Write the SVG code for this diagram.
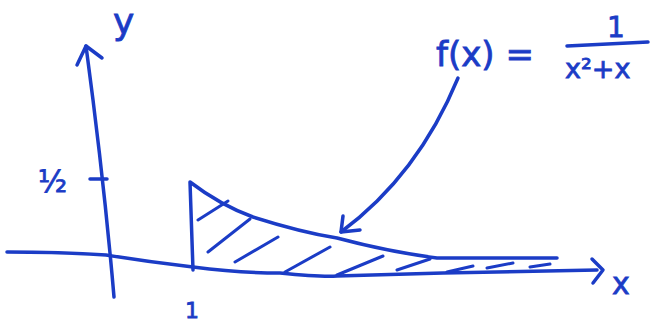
<svg xmlns="http://www.w3.org/2000/svg" width="652" height="324" viewBox="0 0 652 324">
<style>
.s{fill:none;stroke:#1b3cc6;stroke-width:3.5;stroke-linecap:round;stroke-linejoin:round}
.h{fill:none;stroke:#1b3cc6;stroke-width:3;stroke-linecap:round}
.t{fill:#1b3cc6;font-family:"DejaVu Sans",sans-serif;stroke:#1b3cc6;stroke-width:0.8}
</style>
<rect width="652" height="324" fill="#fff"/>
<g id="axes">
<path class="s" d="M114,297 Q104,180 86,46"/>
<path class="s" d="M77,65 L86,46 L102,58"/>
<path class="s" d="M7,252 Q60,252 106,255 Q150,262 193,267 Q240,273 280,273 Q320,277 337,276 Q400,274 443,273 L597,270"/>
<path class="s" d="M592,259 L603,270 L593,283"/>
<path class="s" d="M90,179 L107,179"/>
</g>
<g id="region">
<path class="s" d="M193,270 L190,182 Q220,205 253,217 Q300,232 337,238 Q390,252 437,258 L557,258"/>
<path class="h" d="M198,220 L228,201 M208,252 L250,219 M235,262 L278,237 M285,272 L330,247 M337,275 L383,256 M397,270 L430,259 M447,272 L473,266 M487,268 L513,263 M530,267 L550,264"/>
</g>
<g id="connectors">
<path class="s" d="M458,78 Q418,175 341,232"/>
<path class="s" d="M343,216 L341,232 L360,230"/>
</g>
<g id="labels">
<text class="t" x="113" y="34" font-size="36">y</text>
<text class="t" x="38" y="192" font-size="30">½</text>
<text class="t" x="185" y="318" font-size="22">1</text>
<text class="t" x="612" y="294" font-size="30">x</text>
<text class="t" x="436" y="66" font-size="34">f(x) =</text>
<text class="t" x="607" y="37" font-size="28">1</text>
<path class="s" d="M567,46 L648,42"/>
<text class="t" x="565" y="78" font-size="27">x²+x</text>
</g>
</svg>
